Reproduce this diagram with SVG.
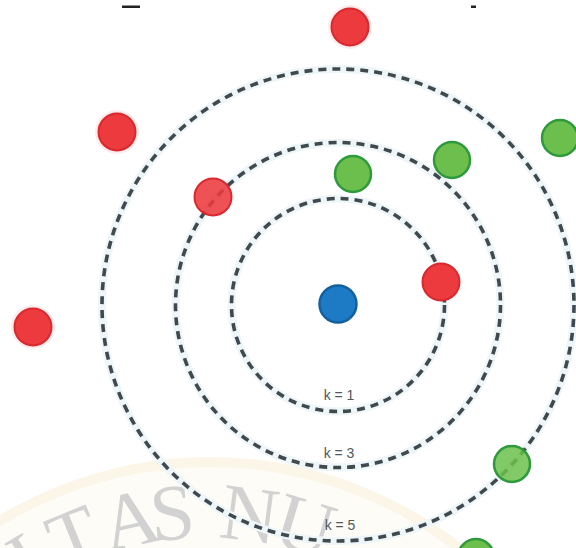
<svg xmlns="http://www.w3.org/2000/svg" width="576" height="548" viewBox="0 0 576 548">
  <defs>
    <style>
      .wm { font-family: "Liberation Serif", "Times New Roman", serif; font-size: 80px; fill: #d2d2d2; text-anchor: middle; }
      .halo { fill: none; stroke: #eef6f9; stroke-width: 8; }
      .ring { fill: none; stroke: #3f494e; stroke-width: 3.6; stroke-dasharray: 8 6; }
      .lbl { font-family: "Liberation Sans", Arial, sans-serif; font-size: 14px; fill: #50585c; text-anchor: middle; }
      .red { fill: #ec3a3e; stroke: #d9292e; stroke-width: 2; }
      .green { fill: #6cbf4c; stroke: #2f9a3c; stroke-width: 2.5; }
      .blue { fill: #1d7bc6; stroke: #14609f; stroke-width: 2.5; }
      .pink { fill: #fdeced; }
    </style>
  </defs>
  <rect width="576" height="548" fill="#ffffff"/>

  <!-- watermark -->
  <g id="watermark">
    <circle cx="210" cy="865" r="408" fill="#fefcf7"/>
    <circle cx="210" cy="865" r="403" fill="none" stroke="#fbf6e8" stroke-width="10"/>
    <text class="wm" transform="translate(40.1,583.4) rotate(-30.8)">I</text>
    <text class="wm" transform="translate(83.9,561.7) rotate(-22.1)">T</text>
    <text class="wm" transform="translate(135.9,545.5) rotate(-12.4)">A</text>
    <text class="wm" transform="translate(174.7,539.4) rotate(-5.4)">S</text>
    <text class="wm" transform="translate(246.5,540.7) rotate(7.4)">N</text>
    <text class="wm" transform="translate(297.5,551.6) rotate(16.7)">U</text>
  </g>

  <!-- cropped title remnants -->
  <g id="title-fragments" fill="#222">
    <rect x="122" y="5.5" width="18" height="2.5"/>
    <rect x="471" y="5.5" width="5" height="2.5"/>
  </g>

  <!-- connectors: neighbourhood rings -->
  <g id="connectors">
    <circle class="halo" cx="338" cy="305" r="106.5"/>
    <circle class="halo" cx="338" cy="305" r="162.5"/>
    <circle class="halo" cx="338" cy="305" r="236"/>
    <circle id="ring-k1" class="ring" cx="338" cy="305" r="106.5"/>
    <circle id="ring-k3" class="ring" cx="338" cy="305" r="162.5"/>
    <circle id="ring-k5" class="ring" cx="338" cy="305" r="236"/>
  </g>

  <g id="labels">
    <text class="lbl" x="339" y="400">k = 1</text>
    <text class="lbl" x="339" y="458">k = 3</text>
    <text class="lbl" x="340" y="530">k = 5</text>
  </g>

  <!-- nodes -->
  <g id="query"><circle class="blue" cx="338" cy="304" r="18.5"/></g>

  <g id="red-1"><circle class="pink" cx="350" cy="27" r="22"/><circle class="red" cx="350" cy="27" r="18.5"/></g>
  <g id="red-2"><circle class="pink" cx="117" cy="132" r="22"/><circle class="red" cx="117" cy="132" r="18.5"/></g>
  <g id="red-3"><circle class="red" cx="213" cy="197" r="18.5" fill-opacity="0.88"/></g>
  <g id="red-4"><circle class="red" cx="441" cy="282" r="18.5"/></g>
  <g id="red-5"><circle class="pink" cx="33" cy="327" r="22"/><circle class="red" cx="33" cy="327" r="18.5"/></g>

  <g id="green-1"><circle class="green" cx="353" cy="174" r="18"/></g>
  <g id="green-2"><circle class="green" cx="452" cy="160" r="18"/></g>
  <g id="green-3"><circle class="green" cx="560" cy="138" r="18"/></g>
  <g id="green-4"><circle class="green" cx="512" cy="464" r="18" fill-opacity="0.85"/></g>
  <g id="green-5"><circle class="green" cx="476" cy="557" r="18"/></g>
</svg>
